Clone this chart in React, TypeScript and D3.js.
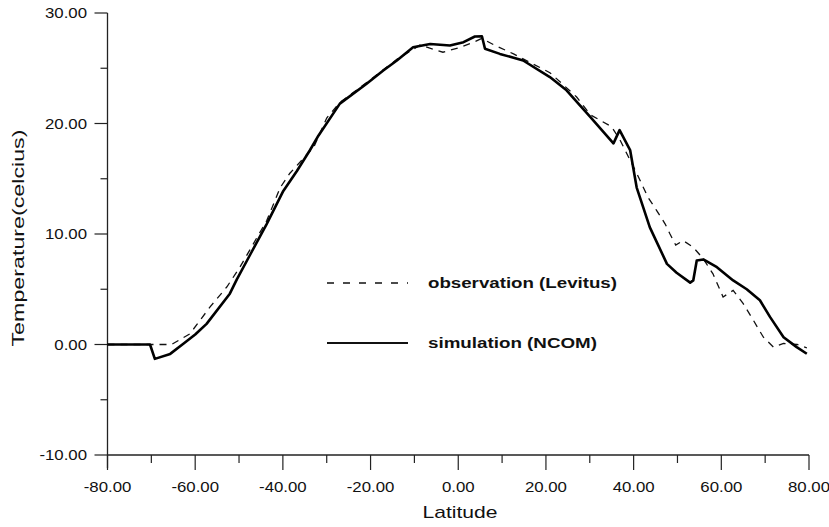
import * as d3 from "d3";

// NCOM simulation (solid) – latitude / temperature
const simLat = [-80, -70.3, -69.2, -65.7, -62.7, -60, -57.4, -52.1, -50.5, -47.5, -43.7, -39.9, -36.8, -33.8, -31.9, -27, -20.9, -17.1, -14, -10.3, -6.4, -1.9, 1.2, 3.8, 5.4, 6.1, 9.5, 14.8, 20.9, 24.7, 30.1, 35.4, 36.8, 39.2, 40.7, 43.7, 47.6, 49.8, 52.9, 53.6, 54.4, 55.9, 59, 62.7, 65.8, 68.8, 71.1, 74.2, 77.2, 79.5];
const simTemp = [0, 0, -1.3, -0.85, 0.06, 0.9, 1.87, 4.6, 5.9, 8.1, 10.9, 13.9, 15.7, 17.6, 18.9, 21.8, 23.6, 24.8, 25.7, 26.9, 27.2, 27.06, 27.36, 27.87, 27.9, 26.76, 26.3, 25.7, 24.2, 23.0, 20.6, 18.2, 19.4, 17.6, 14.2, 10.6, 7.3, 6.5, 5.6, 5.8, 7.6, 7.7, 7.0, 5.8, 5.0, 4.0, 2.5, 0.66, -0.24, -0.84];

// Levitus observation (dashed)
const obsLat = [-80, -65.4, -61.2, -56.6, -52.8, -49.8, -43.7, -40.6, -38.4, -32.9, -30, -27, -20.9, -14, -8.7, -3.5, 0.5, 3.8, 5.4, 8.2, 12.6, 20.9, 27, 30.1, 35, 36.9, 40.7, 43.3, 45.3, 47.2, 48.3, 49.6, 51.3, 53.6, 55.8, 58.1, 60.4, 62.7, 65, 67.3, 69.6, 71.9, 74.2, 77.3, 79.5];
const obsTemp = [0, 0, 0.97, 3.4, 5.2, 7.0, 11.2, 14.2, 15.5, 17.9, 20.5, 21.9, 23.7, 25.8, 27.1, 26.45, 26.9, 27.4, 27.7, 27.1, 26.3, 24.6, 22.4, 20.8, 19.7, 18.5, 15.5, 13.3, 12.1, 10.9, 10.0, 9.0, 9.4, 8.8, 7.8, 6.4, 4.3, 4.9, 3.7, 2.2, 0.66, -0.24, 0.1, 0, -0.3];

const xMajor = [-80, -60, -40, -20, 0, 20, 40, 60, 80];
const xMinor = [-70, -50, -30, -10, 10, 30, 50, 70];
const yMajor = [30, 20, 10, 0, -10];
const yMinor = [25, 15, 5, -5];

const legendItems = [
  { label: "observation (Levitus)", dash: "7,9", width: 1.3, textLen: 189 },
  { label: "simulation (NCOM)", dash: "none", width: 2.2, textLen: 169 },
];

const W = 829, H = 527;
const FONT = "Liberation Sans, Arial, Helvetica, sans-serif";

export default function App() {
  const x = d3.scaleLinear().domain([-80, 80]).range([107.5, 809]);
  const y = d3.scaleLinear().domain([-10, 30]).range([455, 13]);
  const line = d3.line<[number, number]>().x(d => x(d[0])).y(d => y(d[1]));
  const sim = simLat.map((v, i) => [v, simTemp[i]] as [number, number]);
  const obs = obsLat.map((v, i) => [v, obsTemp[i]] as [number, number]);
  const x0 = x(-80), yb = y(-10);

  return (
    <svg width={W} height={H} style={{ position: "absolute", left: 0, top: 0, background: "#fff", fontFamily: FONT }}>
      {/* axes */}
      <line x1={x0} x2={x0} y1={y(30)} y2={yb + 13} stroke="#222" strokeWidth="1.3" />
      <line x1={x0} x2={x(80)} y1={yb} y2={yb} stroke="#222" strokeWidth="1.3" />
      {yMajor.map(t => <line key={t} x1={x0 - 13} x2={x0} y1={y(t)} y2={y(t)} stroke="#222" strokeWidth="1.2" />)}
      {yMinor.map(t => <line key={t} x1={x0 - 7} x2={x0} y1={y(t)} y2={y(t)} stroke="#222" strokeWidth="1.2" />)}
      {xMajor.map(t => <line key={t} x1={x(t)} x2={x(t)} y1={yb} y2={yb + 15} stroke="#222" strokeWidth="1.2" />)}
      {xMinor.map(t => <line key={t} x1={x(t)} x2={x(t)} y1={yb} y2={yb + 8} stroke="#222" strokeWidth="1.2" />)}
      {yMajor.map(t => (
        <text key={t} transform={`translate(87 ${y(t) + 5}) scale(1.2 1)`} textAnchor="end" fontSize="14" fill="#111">{t.toFixed(2)}</text>
      ))}
      {xMajor.map(t => (
        <text key={t} transform={`translate(${x(t)} 492) scale(1.2 1)`} textAnchor="middle" fontSize="14" fill="#111">{t.toFixed(2)}</text>
      ))}
      <text x={460} y={518} textAnchor="middle" fontSize="17" fill="#111" textLength="75" lengthAdjust="spacingAndGlyphs">Latitude</text>
      <text transform="translate(24 238) rotate(-90)" textAnchor="middle" fontSize="17" fill="#111" textLength="217" lengthAdjust="spacingAndGlyphs">Temperature(celcius)</text>

      {/* series */}
      <path d={line(obs) ?? ""} fill="none" stroke="#111" strokeWidth="1.3" strokeDasharray="7,6" />
      <path d={line(sim) ?? ""} fill="none" stroke="#000" strokeWidth="2.6" strokeLinejoin="round" />

      {/* legend */}
      {legendItems.map((d, i) => {
        const ly = 283 + i * 60;
        return (
          <g key={d.label}>
            <line x1={327} x2={408} y1={ly} y2={ly} stroke="#111" strokeWidth={d.width} strokeDasharray={d.dash} />
            <text x={428} y={ly + 5} fontSize="14" fontWeight="bold" fill="#111" textLength={d.textLen} lengthAdjust="spacingAndGlyphs">{d.label}</text>
          </g>
        );
      })}
    </svg>
  );
}
